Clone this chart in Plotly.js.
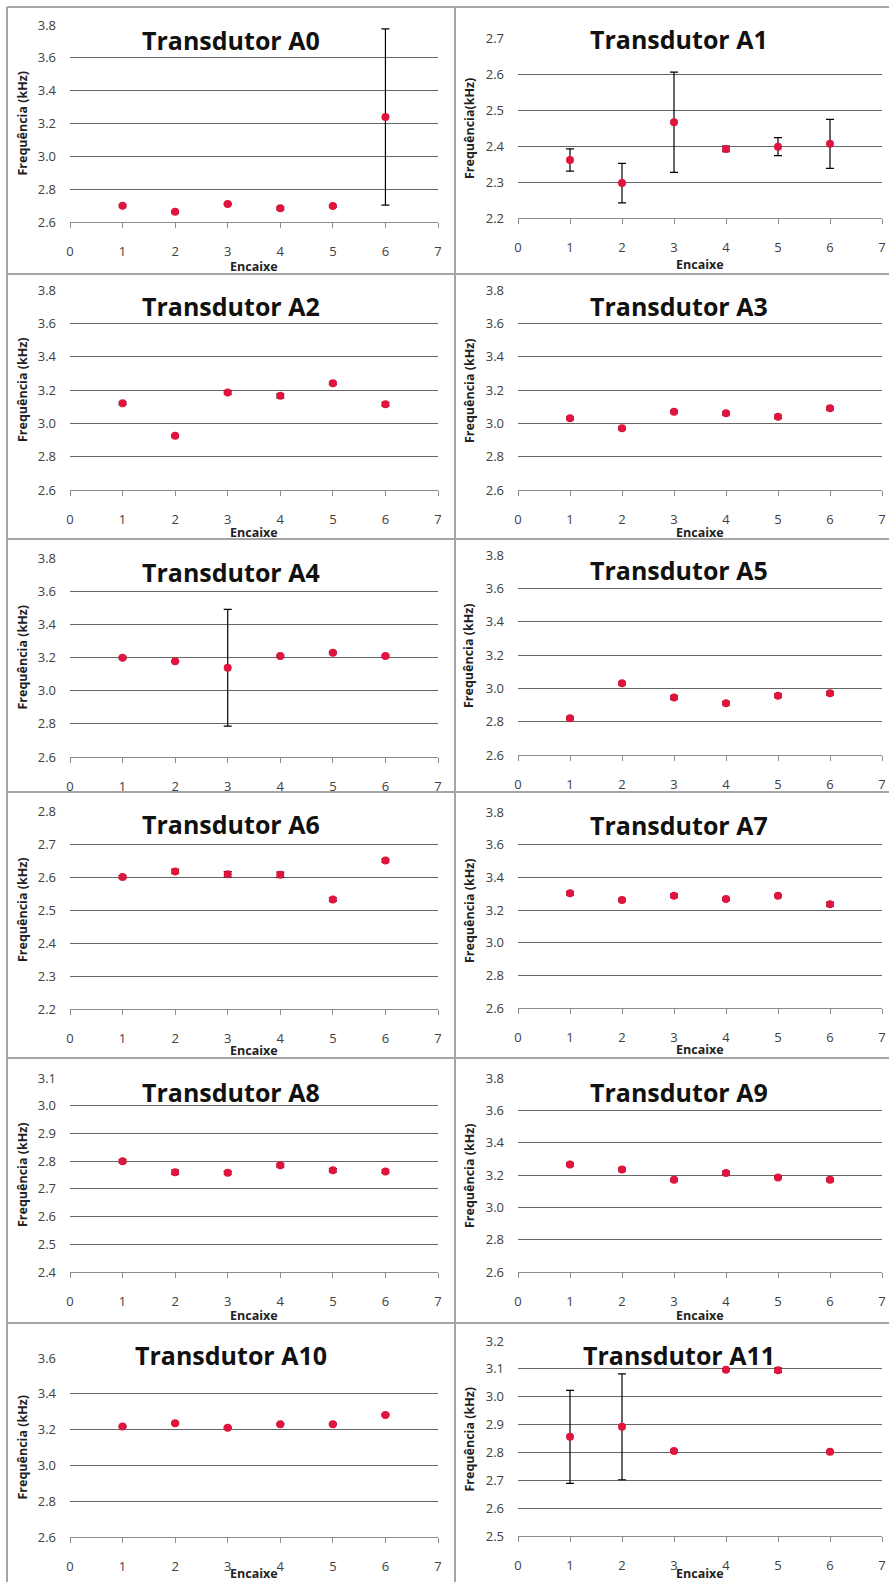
<!DOCTYPE html>
<html><head><meta charset="utf-8">
<script src="https://cdn.plot.ly/plotly-3.0.1.min.js"></script>
<style>html,body{margin:0;padding:0;background:#fff}#chart{width:889px;height:1582px}</style>
</head><body><div id="chart"></div>
<script>
// ---------- DATA ----------
const panelNames = ['Transdutor A0','Transdutor A1','Transdutor A2','Transdutor A3','Transdutor A4','Transdutor A5',
                    'Transdutor A6','Transdutor A7','Transdutor A8','Transdutor A9','Transdutor A10','Transdutor A11'];
const encaixe = [1, 2, 3, 4, 5, 6];
const xTickVals = [0, 1, 2, 3, 4, 5, 6, 7];
const xTitle = 'Encaixe';
const yTitles = ['Frequência (kHz)','Frequência(kHz)','Frequência (kHz)','Frequência (kHz)','Frequência (kHz)','Frequência (kHz)',
                 'Frequência (kHz)','Frequência (kHz)','Frequência (kHz)','Frequência (kHz)','Frequência (kHz)','Frequência (kHz)'];

const freqA0  = [2.699, 2.662, 2.709, 2.683, 2.697, 3.240];
const errA0   = [0.006, 0.006, 0.005, 0.008, 0.006, 0.537];
const freqA1  = [2.361, 2.297, 2.466, 2.392, 2.398, 2.406];
const errA1   = [0.031, 0.055, 0.139, 0.008, 0.025, 0.068];
const freqA2  = [3.120, 2.925, 3.185, 3.165, 3.240, 3.115];
const errA2   = [0.008, 0.006, 0.010, 0.012, 0.008, 0.010];
const freqA3  = [3.030, 2.970, 3.070, 3.060, 3.040, 3.090];
const errA3   = [0.008, 0.008, 0.008, 0.008, 0.010, 0.008];
const freqA4  = [3.199, 3.177, 3.138, 3.209, 3.229, 3.209];
const errA4   = [0.005, 0.005, 0.352, 0.005, 0.006, 0.005];
const freqA5  = [2.820, 3.030, 2.945, 2.910, 2.955, 2.970];
const errA5   = [0.008, 0.008, 0.010, 0.010, 0.010, 0.010];
const freqA6  = [2.600, 2.617, 2.608, 2.607, 2.532, 2.650];
const errA6   = [0.004, 0.006, 0.008, 0.008, 0.005, 0.004];
const freqA7  = [3.302, 3.261, 3.287, 3.267, 3.287, 3.235];
const errA7   = [0.010, 0.008, 0.010, 0.006, 0.006, 0.012];
const freqA8  = [2.800, 2.760, 2.758, 2.785, 2.767, 2.763];
const errA8   = [0.005, 0.008, 0.005, 0.006, 0.006, 0.005];
const freqA9  = [3.265, 3.234, 3.170, 3.212, 3.185, 3.170];
const errA9   = [0.008, 0.008, 0.008, 0.010, 0.006, 0.010];
const freqA10 = [3.217, 3.236, 3.211, 3.230, 3.230, 3.282];
const errA10  = [0.004, 0.005, 0.004, 0.004, 0.005, 0.004];
const freqA11 = [2.856, 2.892, 2.805, 3.097, 3.095, 2.802];
const errA11  = [0.167, 0.190, 0.004, 0.004, 0.008, 0.004];

const yMin  = [2.6, 2.2, 2.6, 2.6, 2.6, 2.6, 2.2, 2.6, 2.4, 2.6, 2.6, 2.5];
const yMax  = [3.8, 2.7, 3.8, 3.8, 3.8, 3.8, 2.8, 3.8, 3.1, 3.8, 3.6, 3.2];
const yStep = [0.2, 0.1, 0.2, 0.2, 0.2, 0.2, 0.1, 0.2, 0.1, 0.2, 0.2, 0.1];

const freqs = [freqA0,freqA1,freqA2,freqA3,freqA4,freqA5,freqA6,freqA7,freqA8,freqA9,freqA10,freqA11];
const errs  = [errA0,errA1,errA2,errA3,errA4,errA5,errA6,errA7,errA8,errA9,errA10,errA11];

// ---------- GEOMETRY (pixels) ----------
const W = 889, H = 1582;
// plot box: [left, right, top, bottom]
const plotBox = [
  [70, 438, 25, 222], [518, 882, 38, 218],
  [70, 438, 290, 490], [518, 882, 290, 490],
  [70, 438, 558, 757], [518, 882, 555, 755],
  [70, 438, 811, 1009], [518, 882, 812, 1008],
  [70, 438, 1078, 1272], [518, 882, 1078, 1272],
  [70, 438, 1358, 1537], [518, 882, 1341, 1536]
];
const titleY = [40, 39, 306, 306, 572, 570, 824, 825, 1092, 1092, 1355, 1355];
const xTitleY = [266, 264, 533, 533, 0, 0, 1050, 1049, 1315, 1315, 1573, 1573];
const showXTitle = [true,true,true,true,false,false,true,true,true,true,true,true];
const colCenter = [231, 679];
const yTitleX = [22, 469];
const rowLines = [7, 274, 539, 792, 1058, 1323];

const FONT = 'Open Sans, Liberation Sans, sans-serif';
const px = x => x / W;
const py = y => 1 - y / H;

const data = [];
const layout = {
  width: W, height: H,
  margin: {l: 0, r: 0, t: 0, b: 0},
  paper_bgcolor: '#ffffff', plot_bgcolor: 'rgba(0,0,0,0)',
  showlegend: false,
  annotations: [], shapes: []
};

for (let i = 0; i < 12; i++) {
  const n = i === 0 ? '' : String(i + 1);
  const [l, r, t, b] = plotBox[i];
  const col = i % 2;
  data.push({
    type: 'scatter', mode: 'markers',
    x: encaixe, y: freqs[i],
    xaxis: 'x' + n, yaxis: 'y' + n,
    marker: {color: '#E0143C', size: 8},
    error_y: {type: 'data', array: errs[i], visible: true, color: '#000000', thickness: 1.2, width: 4},
    cliponaxis: false, hoverinfo: 'x+y'
  });
  const tv = [];
  const steps = Math.round((yMax[i] - yMin[i]) / yStep[i]);
  for (let k = 0; k <= steps; k++) tv.push(+(yMin[i] + k * yStep[i]).toFixed(2));
  layout['xaxis' + n] = {
    domain: [px(l), px(r)], anchor: 'y' + n,
    range: [0, 7], tickmode: 'array', tickvals: xTickVals,
    ticks: 'outside', ticklen: 5, tickcolor: '#8c8c8c', tickwidth: 1,
    showline: true, linecolor: '#8c8c8c', linewidth: 1,
    showgrid: false, zeroline: false,
    tickfont: {family: FONT, size: 13, color: '#404040'},
    ticklabelstandoff: 12, ticklabeloverflow: 'allow', fixedrange: true
  };
  layout['yaxis' + n] = {
    domain: [py(b), py(t)], anchor: 'x' + n,
    range: [yMin[i], yMax[i]], tickmode: 'array', tickvals: tv,
    tickformat: '.1f',
    showgrid: true, gridcolor: '#666666', gridwidth: 1,
    zeroline: false, showline: false, ticks: '',
    tickfont: {family: FONT, size: 13, color: '#404040'},
    ticklabelstandoff: 13, fixedrange: true
  };
  layout.annotations.push({
    text: '<b>' + panelNames[i] + '</b>', xref: 'paper', yref: 'paper',
    x: px(colCenter[col]), y: py(titleY[i]), xanchor: 'center', yanchor: 'middle',
    showarrow: false, font: {family: FONT, size: 25, color: '#111111'}
  });
  layout.annotations.push({
    text: '<b>' + yTitles[i] + '</b>', xref: 'paper', yref: 'paper',
    x: px(yTitleX[col]), y: py((t + b) / 2), xanchor: 'center', yanchor: 'middle',
    textangle: -90, showarrow: false, font: {family: FONT, size: 12.5, color: '#222222'}
  });
  if (showXTitle[i]) {
    layout.annotations.push({
      text: '<b>' + xTitle + '</b>', xref: 'paper', yref: 'paper',
      x: px((l + r) / 2), y: py(xTitleY[i]), xanchor: 'center', yanchor: 'middle',
      showarrow: false, font: {family: FONT, size: 12.5, color: '#222222'}
    });
  }
}

// panel borders
const border = {color: '#a6a6a6', width: 2};
layout.shapes.push({type: 'line', xref: 'paper', yref: 'paper', x0: px(7), x1: px(7), y0: py(7), y1: 0, line: border});
layout.shapes.push({type: 'line', xref: 'paper', yref: 'paper', x0: px(455), x1: px(455), y0: py(7), y1: 0, line: border});
rowLines.forEach(y => layout.shapes.push({type: 'line', xref: 'paper', yref: 'paper', x0: px(7), x1: 1, y0: py(y), y1: py(y), line: border}));

Plotly.newPlot('chart', data, layout, {displayModeBar: false, staticPlot: true});
</script>
</body></html>
